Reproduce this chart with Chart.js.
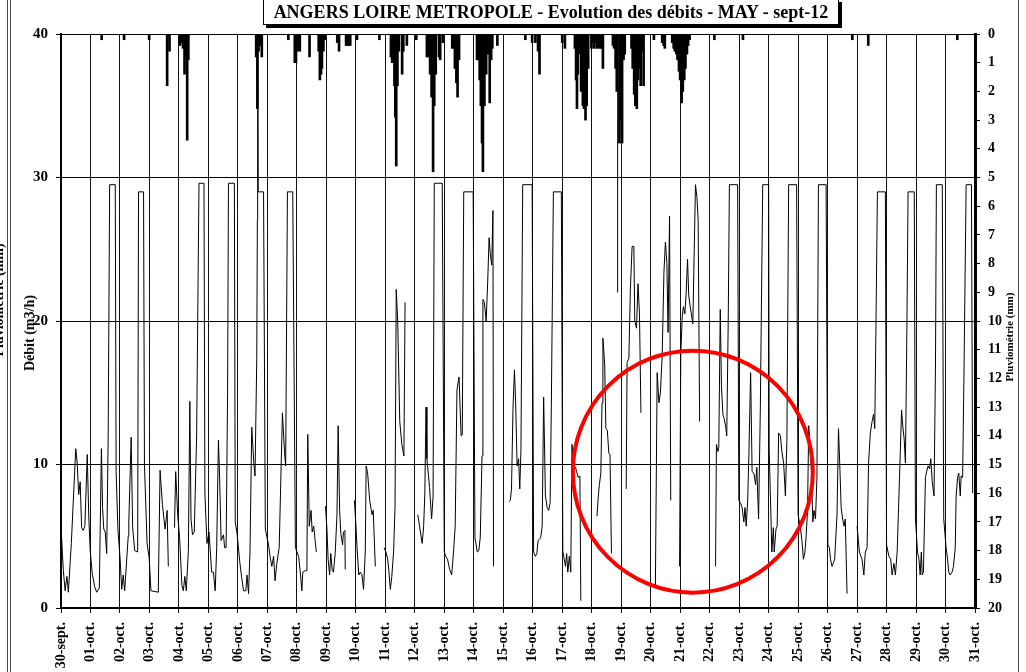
<!DOCTYPE html>
<html>
<head>
<meta charset="utf-8">
<script src="https://cdn.jsdelivr.net/npm/chart.js@4"></script>
<style>
body { margin: 0; background: #fff; }
#wrap { position: relative; width: 1026px; height: 672px; overflow: hidden; font-family: "Liberation Serif", serif; font-weight: bold; color: #000; }
canvas { position: absolute; left: 0; top: 0; }
.frame { position: absolute; top: 0; height: 672px; border-left: 1px solid #444; }
#title { position: absolute; left: 263px; top: -1px; width: 574px; height: 24px; border: 1px solid #000; box-shadow: 3px 3px 0 #000; background: #fff; text-align: center; font-size: 18px; line-height: 25px; white-space: nowrap; }
.vtitle { position: absolute; transform: translate(-50%, -50%) rotate(-90deg); white-space: nowrap; }
</style>
</head>
<body>
<div id="wrap">
  <canvas id="chart" width="1026" height="672"></canvas>
  <div class="frame" style="left:7px"></div>
  <div class="frame" style="left:10px"></div>
  <div class="frame" style="left:1018px"></div>
  <div class="vtitle" style="left:-1px; top:300px; font-size:14px">Pluviométrie (mm)</div>
  <div id="title">ANGERS LOIRE METROPOLE - Evolution des débits - MAY - sept-12</div>
  <div class="vtitle" style="left:30px; top:333px; font-size:14px">Débit (m3/h)</div>
  <div class="vtitle" style="left:1009px; top:337px; font-size:11px">Pluviométrie (mm)</div>
</div>
<script>
// x axis labels, one per day (0 = 30 sept)
const dayLabels = ["30-sept.", "01-oct.", "02-oct.", "03-oct.", "04-oct.", "05-oct.", "06-oct.", "07-oct.",
    "08-oct.", "09-oct.", "10-oct.", "11-oct.", "12-oct.", "13-oct.", "14-oct.", "15-oct.", "16-oct.",
    "17-oct.", "18-oct.", "19-oct.", "20-oct.", "21-oct.", "22-oct.", "23-oct.", "24-oct.", "25-oct.",
    "26-oct.", "27-oct.", "28-oct.", "29-oct.", "30-oct.", "31-oct."];

// flow (m3/h), time in days since 30 sept, null = no record
const flowDay = [
    0.00, 0.02, 0.08, 0.14, 0.20, 0.25, 0.35, 0.50, 0.55, 0.60, 0.65, 0.70, 0.75, 0.81, 0.89, 0.94, 0.99,
    1.06, 1.14, 1.21, 1.30, 1.37, 1.41, 1.45, 1.50, 1.55, 1.60, 1.65, 1.84, 1.87, 1.93,
    2.00, 2.06, 2.11, 2.16, 2.28, 2.30, 2.38, 2.43, 2.50, 2.60, 2.63, 2.80, 2.83, 2.92,
    2.99, 3.05, 3.30, 3.36, 3.44, 3.53, 3.60, 3.64, 3.75, 3.85, 3.89, 3.96,
    4.02, 4.10, 4.15, 4.20, 4.25, 4.32, 4.37, 4.41, 4.46, 4.52, 4.60, 4.68, 4.85, 4.88, 4.95,
    5.02, 5.11, 5.17, 5.23, 5.28, 5.34, 5.38, 5.43, 5.51, 5.55, 5.60, 5.65, 5.68, 5.88, 5.91, 5.97,
    6.07, 6.13, 6.19, 6.27, 6.31, 6.36, 6.41, 6.47, 6.54, 6.58, 6.64, 6.66, 6.67, 6.69, 6.87, 6.93,
    7.04, 7.09, 7.15, 7.21, 7.26, 7.32, 7.40, 7.51, 7.58, 7.62, 7.68, 7.86, 7.95,
    8.06, 8.11, 8.17, 8.20, 8.28, 8.34, 8.37, 8.42, 8.48, 8.52, 8.57, 8.66, 8.80,
    8.97, 9.02, 9.06, 9.11, 9.15, 9.20, 9.24, 9.30, 9.36, 9.40, 9.45, 9.49, 9.55, 9.58, 9.63, 9.64, 9.80,
    9.95, 10.00, 10.04, 10.10, 10.15, 10.21, 10.26, 10.32, 10.35, 10.40, 10.47, 10.55, 10.59, 10.66, 10.80,
    10.96, 11.02, 11.08, 11.12, 11.17, 11.22, 11.28, 11.33, 11.37, 11.42, 11.49, 11.56, 11.63, 11.67, 11.90,
    12.10, 12.14, 12.19, 12.25, 12.30, 12.34, 12.38, 12.41, 12.46, 12.50, 12.57, 12.62, 12.66, 12.93, 13.00,
    13.05, 13.11, 13.18, 13.25, 13.32, 13.37, 13.43, 13.50, 13.57, 13.61, 13.66, 13.98, 14.04,
    14.12, 14.17, 14.22, 14.28, 14.31, 14.36, 14.42, 14.47, 14.52, 14.56, 14.61, 14.65, 14.67, 14.90,
    15.19, 15.24, 15.28, 15.33, 15.38, 15.42, 15.47, 15.52, 15.56, 15.60, 15.66, 15.98, 16.03,
    16.09, 16.14, 16.18, 16.23, 16.27, 16.32, 16.37, 16.43, 16.49, 16.54, 16.59, 16.63, 16.70, 16.97, 17.02,
    17.05, 17.11, 17.15, 17.19, 17.24, 17.29, 17.33, 17.40, 17.45, 17.49, 17.54, 17.60, 17.63, 17.90,
    18.18, 18.22, 18.26, 18.31, 18.35, 18.38, 18.44, 18.48, 18.53, 18.58, 18.62, 18.67, 18.77, 18.87, 18.88, 19.00,
    19.17, 19.20, 19.26, 19.31, 19.37, 19.43, 19.46, 19.52, 19.57, 19.62, 19.67, 19.90,
    20.16, 20.22, 20.28, 20.33, 20.39, 20.45, 20.50, 20.55, 20.59, 20.64, 20.68, 20.85,
    20.98, 21.02, 21.07, 21.11, 21.16, 21.20, 21.25, 21.29, 21.34, 21.38, 21.43, 21.48, 21.52, 21.57, 21.61, 21.66, 21.90,
    22.20, 22.23, 22.28, 22.31, 22.36, 22.40, 22.45, 22.49, 22.54, 22.58, 22.63, 22.67, 22.95, 22.99,
    23.05, 23.10, 23.16, 23.20, 23.24, 23.29, 23.33, 23.39, 23.44, 23.50, 23.56, 23.60, 23.66, 23.72, 23.80, 24.00,
    24.02, 24.11, 24.16, 24.19, 24.25, 24.29, 24.34, 24.40, 24.45, 24.51, 24.57, 24.62, 24.68, 24.95,
    25.00, 25.07, 25.13, 25.18, 25.23, 25.27, 25.32, 25.36, 25.41, 25.45, 25.50, 25.54, 25.59, 25.64, 25.69, 25.95,
    26.01, 26.06, 26.10, 26.15, 26.19, 26.24, 26.32, 26.37, 26.42, 26.46, 26.51, 26.56, 26.60, 26.66, 26.80,
    27.00, 27.08, 27.13, 27.17, 27.23, 27.28, 27.34, 27.39, 27.45, 27.51, 27.56, 27.60, 27.64, 27.69, 27.96,
    28.00, 28.08, 28.14, 28.19, 28.25, 28.30, 28.36, 28.44, 28.51, 28.55, 28.60, 28.64, 28.69, 28.73, 28.94,
    28.98, 29.05, 29.10, 29.14, 29.18, 29.21, 29.25, 29.32, 29.37, 29.41, 29.46, 29.50, 29.55, 29.61, 29.66, 29.69, 29.89,
    29.94, 30.02, 30.07, 30.11, 30.16, 30.22, 30.27, 30.33, 30.36, 30.41, 30.45, 30.50, 30.53, 30.58, 30.63, 30.70, 30.88, 30.92
];
const flowRate = [
    2.8, 4.9, 2.6, 1.2, 2.2, 1.1, 4.5, 11.1, 10.1, 7.9, 8.8, 5.6, 5.4, 5.7, 10.7, 6.5, 4.0,
    2.4, 1.5, 1.1, 1.4, 11.1, 7.0, 5.5, 5.3, 3.8, 12.0, 29.5, 29.5, 9.5, 5.5,
    3.6, 1.3, 2.3, 1.2, 5.0, 6.0, 11.9, 5.6, 4.0, 3.9, 29.0, 29.0, 10.0, 4.5,
    3.5, 1.2, 1.1, 9.6, 7.2, 5.5, 6.8, 2.9, null, 5.6, 9.5, 6.4,
    5.0, 1.6, 1.2, 2.2, 1.2, 4.0, 14.4, 6.2, 5.1, 5.3, 12.0, 29.6, 29.6, 8.0, 4.5,
    5.3, 2.5, 2.5, 1.2, 4.2, 11.7, 9.1, 4.7, 5.1, 4.2, 4.2, 15.0, 29.6, 29.6, 6.0, 5.2,
    3.1, 2.1, 1.2, 1.2, 2.3, 1.0, 3.9, 12.6, 10.1, 9.2, 17.4, 27.1, 44, 29.0, 29.0, 5.5,
    4.4, 3.6, 2.9, 3.6, 1.9, 3.1, 4.2, 13.6, 10.9, 9.9, 29.0, 29.0, 4.2,
    3.6, 2.6, 1.2, 2.5, 2.6, 2.6, 12.1, 5.7, 6.8, 5.3, 5.7, 3.9, null,
    7.1, 5.5, 3.4, 2.3, 3.8, 2.6, 2.5, 3.8, 6.5, 12.7, 6.8, 5.2, 4.4, 5.3, 5.4, 2.7, null,
    7.5, 5.9, 4.2, 2.3, 2.5, 2.3, 1.3, 3.9, 9.9, 9.4, 7.5, 6.5, 6.8, 2.9, null,
    4.2, 3.9, 3.4, 2.6, 1.3, 2.2, 3.9, 7.1, 22.2, 20.0, 13.0, 11.4, 10.6, 21.3, null,
    6.5, 6.0, 5.3, 4.5, 5.7, 8.0, 14.0, 10.4, 9.3, 8.4, 6.2, 7.8, 29.6, 29.6, 3.9,
    3.6, 3.4, 2.7, 2.3, 4.1, 5.7, 15.2, 16.1, 12.0, 12.1, 29.0, 29.0, 4.9,
    3.9, 4.0, 4.9, 10.6, 21.5, 21.3, 20.0, 22.6, 25.8, 24.7, 23.9, 27.7, 2.9, null,
    7.4, 7.5, 8.3, 13.9, 16.6, 14.3, 9.9, 10.4, 8.3, 11.0, 29.5, 29.5, 3.9,
    3.6, 3.8, 4.7, 4.8, 4.9, 5.7, 14.7, 7.8, 7.0, 6.8, 7.3, 14.0, 29.0, 29.0, 4.0,
    3.6, 2.9, 3.8, 2.5, 3.6, 2.5, 11.4, 9.9, 9.8, 9.5, 9.1, 9.2, 0.5, null,
    6.4, 7.7, 8.6, 9.4, 14.3, 18.8, 17.0, 12.5, 12.4, 10.8, 10.7, 3.8, null, 22.0, 44, null,
    8.3, 17.1, 17.4, 22.1, 25.2, 25.2, 20.0, 19.5, 22.6, 20.5, 13.6, null,
    1.6, 16.4, 14.3, 15.0, 17.6, 23.4, 25.5, 24.0, 19.2, 27.3, 7.5, null,
    2.9, 17.6, 20.3, 21.0, 20.5, 21.8, 24.3, 21.8, 21.0, 20.5, 19.8, 25.3, 29.5, 28.6, 27.0, 13.0, null,
    2.9, 11.4, 10.9, 11.2, 20.8, 15.5, 13.5, 13.2, 12.7, 12.0, 20.0, 29.5, 29.5, 7.5,
    7.3, 7.0, 6.0, 7.0, 5.7, 7.5, 10.6, 16.4, 9.5, 9.4, 8.6, 9.8, 6.2, 14.0, 29.5, 29.5,
    11.0, 3.9, 5.6, 3.9, 5.5, 5.7, 12.2, 12.0, 10.9, 10.1, 7.8, 11.7, 29.5, 29.5,
    6.5, 5.7, 4.7, 3.4, 3.9, 4.9, 6.8, 12.7, 11.2, 9.6, 6.0, 6.8, 6.2, 9.1, 29.5, 29.5,
    4.4, 4.2, 3.4, 2.9, 3.1, 3.4, 6.5, 12.5, 9.6, 7.0, 6.2, 5.7, 6.2, 1.0, null,
    5.7, 3.9, 3.6, 3.4, 2.3, 3.9, 4.2, 10.1, 12.2, 13.0, 13.5, 12.5, 19.5, 29.0, 29.0,
    4.4, 3.6, 3.4, 2.3, 3.1, 2.3, 3.9, 9.1, 13.8, 12.7, 11.7, 10.1, 19.5, 29.0, 29.0,
    6.2, 3.9, 3.4, 2.3, 3.9, 2.3, 2.5, 9.1, 9.6, 9.9, 9.7, 10.4, 8.8, 7.8, 17.0, 29.5, 29.5,
    6.2, 4.2, 3.4, 2.5, 2.3, 2.5, 2.9, 4.2, 7.8, 9.1, 9.4, 7.8, 9.2, 9.1, 17.0, 29.5, 29.5, 8.0
];

// rainfall (mm per hour)
const rainDay = [
    1.38, 2.14, 2.99, 3.60, 3.68, 4.04, 4.10, 4.14, 4.19, 4.23, 4.28, 4.32,
    6.62, 6.66, 6.70, 6.76, 6.81, 7.71, 7.93, 7.97, 8.03, 8.10, 8.43,
    8.74, 8.78, 8.82, 8.85, 8.90, 8.95, 9.37, 9.43, 9.67, 9.72, 9.77, 9.81, 10.04, 10.80,
    11.19, 11.23, 11.28, 11.31, 11.34, 11.37, 11.41, 11.46, 11.57, 11.61, 11.73,
    12.05, 12.41, 12.47, 12.52, 12.57, 12.62, 12.66, 12.71, 12.82, 12.86, 12.95,
    13.27, 13.32, 13.36, 13.41, 13.45, 13.50,
    14.11, 14.17, 14.20, 14.24, 14.28, 14.31, 14.36, 14.42, 14.47, 14.54, 14.59, 14.63, 14.80,
    15.75, 15.98, 16.09, 16.18, 16.23, 17.00, 17.09,
    17.43, 17.47, 17.50, 17.53, 17.58, 17.64, 17.66, 17.70, 17.74, 17.79, 17.83, 17.88,
    17.99, 18.04, 18.08, 18.13, 18.17, 18.22, 18.26, 18.31, 18.38,
    18.72, 18.76, 18.81, 18.85, 18.94, 18.99, 19.03, 19.08, 19.12,
    19.35, 19.39, 19.44, 19.48, 19.53, 19.57, 19.62, 19.66, 19.71, 19.76,
    20.11, 20.39, 20.44, 20.48, 20.73, 20.78, 20.82, 20.87, 20.91, 20.96,
    21.00, 21.05, 21.09, 21.14, 21.18, 21.23, 21.27, 21.32,
    22.16, 23.13, 26.84, 27.38, 30.40
];
const rainMm = [
    0.2, 0.2, 0.2, 1.8, 0.6, 0.4, 0.3, 0.5, 1.4, 0.9, 3.7, 0.9,
    0.8, 2.6, 0.6, 0.4, 0.8, 0.2, 1.0, 1.0, 0.6, 0.6, 0.8,
    0.6, 1.6, 1.4, 1.2, 0.6, 0.2, 0.3, 0.6, 0.4, 0.4, 0.4, 0.4, 0.2, 0.2,
    0.8, 1.0, 1.0, 1.8, 2.9, 4.6, 1.8, 0.6, 1.4, 0.6, 0.4,
    0.2, 0.8, 0.8, 1.4, 2.2, 4.8, 2.5, 1.4, 0.8, 0.9, 0.3,
    0.5, 0.5, 1.2, 1.7, 2.2, 0.9,
    0.9, 0.9, 1.6, 2.5, 3.8, 4.8, 2.5, 1.4, 0.7, 2.4, 0.9, 0.5, 0.4,
    0.2, 0.3, 0.3, 0.6, 1.4, 0.3, 0.5,
    0.5, 1.6, 2.6, 1.4, 0.7, 2.0, 1.2, 2.5, 2.6, 3.0, 2.5, 1.2,
    0.5, 0.3, 0.5, 0.3, 0.5, 0.4, 0.5, 0.5, 1.2,
    0.4, 0.5, 1.2, 2.0, 3.8, 3.0, 3.8, 0.9, 0.7,
    0.5, 1.2, 2.1, 2.5, 2.6, 1.6, 1.2, 1.8, 0.6, 1.8,
    0.2, 0.3, 0.4, 0.5, 0.3, 0.5, 0.6, 0.7, 0.9, 1.3,
    1.6, 2.4, 2.0, 1.6, 1.2, 0.7, 0.4, 0.2,
    0.2, 0.2, 0.2, 0.4, 0.2
];

// red ring drawn on the picture (centre and radii in axis units)
const ringCenter = [21.43, 9.5];
const ringRadius = [4.07, 8.43];

const ringPlugin = {
    id: "ring",
    afterDatasetsDraw(chart) {
        const { ctx, scales: { x, y } } = chart;
        const cx = x.getPixelForValue(ringCenter[0]);
        const cy = y.getPixelForValue(ringCenter[1]);
        const rx = x.getPixelForValue(ringCenter[0] + ringRadius[0]) - cx;
        const ry = cy - y.getPixelForValue(ringCenter[1] + ringRadius[1]);
        ctx.save();
        ctx.strokeStyle = "#ff0000";
        ctx.lineWidth = 4;
        ctx.beginPath();
        ctx.ellipse(cx, cy, rx, ry, 0, 0, Math.PI * 2);
        ctx.stroke();
        ctx.restore();
    }
};

Chart.defaults.font.family = "'Liberation Serif', serif";
Chart.defaults.font.weight = "bold";
Chart.defaults.color = "#000";

new Chart(document.getElementById("chart"), {
    type: "bar",
    data: {
        datasets: [
            {
                type: "line",
                data: flowDay.map((d, i) => ({ x: d, y: flowRate[i] })),
                xAxisID: "x",
                yAxisID: "y",
                borderColor: "#000",
                borderWidth: 1,
                pointRadius: 0,
                tension: 0,
                spanGaps: false
            },
            {
                type: "bar",
                data: rainDay.map((d, i) => ({ x: d, y: rainMm[i] })),
                xAxisID: "x",
                yAxisID: "y2",
                backgroundColor: "#000",
                barThickness: 2,
                grouped: false
            }
        ]
    },
    options: {
        responsive: false,
        animation: false,
        devicePixelRatio: 1,
        layout: { padding: { top: 34, left: 0, right: 0, bottom: 0 } },
        plugins: { legend: { display: false }, tooltip: { enabled: false } },
        scales: {
            x: {
                type: "linear",
                min: 0,
                max: 31,
                offset: false,
                afterFit: s => { s.height = 64; },
                border: { color: "#000", width: 2 },
                grid: { offset: false, color: "#111", lineWidth: 1, tickLength: 5 },
                ticks: {
                    stepSize: 1,
                    autoSkip: false,
                    maxRotation: 90,
                    minRotation: 90,
                    padding: 9,
                    font: { size: 14 },
                    callback: v => dayLabels[v] ?? ""
                }
            },
            y: {
                position: "left",
                min: 0,
                max: 40,
                afterFit: s => { s.width = 61; },
                border: { color: "#000", width: 2 },
                grid: { color: "#000", lineWidth: 1, tickLength: 5 },
                ticks: { stepSize: 10, padding: 8, font: { size: 15 } }
            },
            y2: {
                position: "right",
                min: 0,
                max: 20,
                reverse: true,
                afterFit: s => { s.width = 51; },
                border: { color: "#000", width: 3 },
                grid: { drawOnChartArea: false, color: "#000", tickLength: 5 },
                ticks: { stepSize: 1, padding: 8, font: { size: 14 } }
            }
        }
    },
    plugins: [ringPlugin]
});
</script>
</body>
</html>
